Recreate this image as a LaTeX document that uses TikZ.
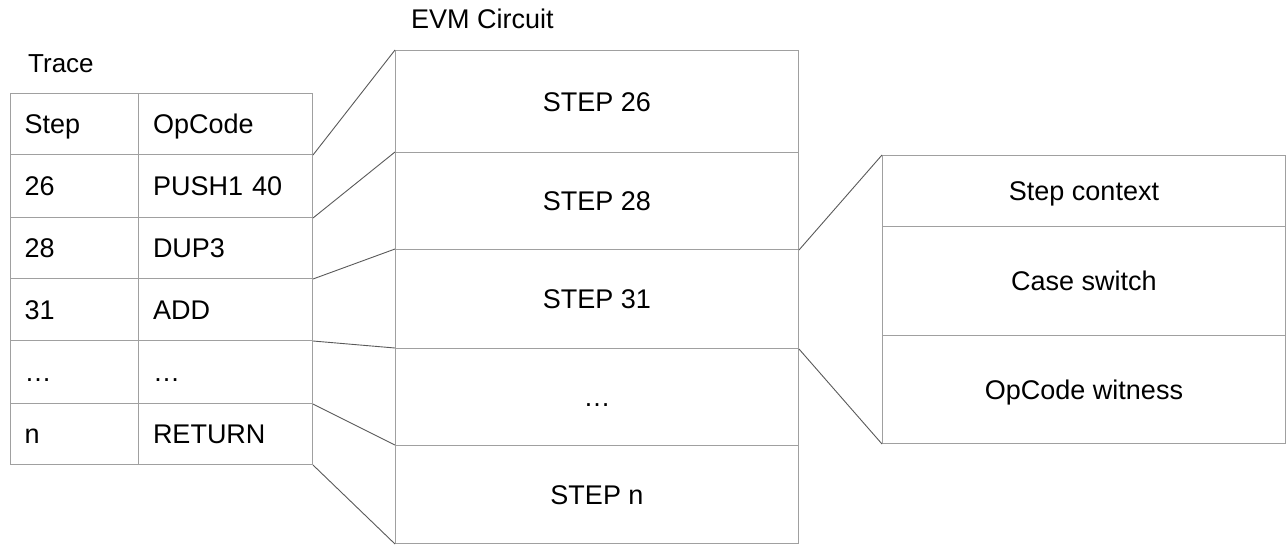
\documentclass[tikz,border=0pt]{standalone}
\usepackage{fontspec}
\setmainfont{Liberation Sans}
\definecolor{boxgray}{HTML}{A0A0A0}
\definecolor{linkgray}{HTML}{595959}
\begin{document}
\begin{tikzpicture}[x=1pt,y=-1pt,
  base/.style={font=\fontsize{27}{30}\selectfont, text height=19.3pt, text depth=0pt, inner ysep=0pt},
  cell/.style={base, draw=boxgray, line width=1pt, anchor=north west, inner xsep=14.5pt, align=left},
  colA/.style={cell, text width=99.5pt, minimum width=128.5pt},
  colB/.style={cell, text width=145pt, minimum width=174pt},
  box/.style={base, draw=boxgray, line width=1pt, anchor=north west, minimum width=403pt, align=center},
  title/.style={base, anchor=west, inner xsep=0pt},
  link/.style={draw=linkgray, line width=0.9pt}]
\useasboundingbox (0,0) rectangle (1286,544);
% titles
\node[title, font=\fontsize{26}{30}\selectfont, text height=18.6pt] (ttrace) at (28,63.5) {Trace};
\node[title] (tevm) at (411,19) {EVM Circuit};
% trace table
\node[colA, minimum height=61.5pt] (r0a) at (9.5,92.5) {Step};
\node[colB, minimum height=61.5pt] (r0b) at (138,92.5) {OpCode};
\node[colA, minimum height=63pt] (r1a) at (9.5,154) {26};
\node[colB, minimum height=63pt] (r1b) at (138,154) {PUSH1 40};
\node[colA, minimum height=61pt] (r2a) at (9.5,217) {28};
\node[colB, minimum height=61pt] (r2b) at (138,217) {DUP3};
\node[colA, minimum height=62pt] (r3a) at (9.5,278) {31};
\node[colB, minimum height=62pt] (r3b) at (138,278) {ADD};
\node[colA, minimum height=63pt] (r4a) at (9.5,340) {\dots};
\node[colB, minimum height=63pt] (r4b) at (138,340) {\dots};
\node[colA, minimum height=61pt] (r5a) at (9.5,403) {n};
\node[colB, minimum height=61pt] (r5b) at (138,403) {RETURN};
% EVM circuit
\node[box, minimum height=102pt] (e1) at (395,50) {STEP 26};
\node[box, minimum height=97pt] (e2) at (395,152) {STEP 28};
\node[box, minimum height=99pt] (e3) at (395,249) {STEP 31};
\node[box, minimum height=97pt] (e4) at (395,348) {\dots};
\node[box, minimum height=98pt] (e5) at (395,445) {STEP n};
% step detail
\node[box, minimum height=71pt] (s1) at (882,155) {Step context};
\node[box, minimum height=109pt] (s2) at (882,226) {Case switch};
\node[box, minimum height=108pt] (s3) at (882,335) {OpCode witness};
% connectors
\draw[link] (r0b.south east) -- (e1.north west);
\draw[link] (r1b.south east) -- (e2.north west);
\draw[link] (r2b.south east) -- (e3.north west);
\draw[link] (r3b.south east) -- (e4.north west);
\draw[link] (r4b.south east) -- (e5.north west);
\draw[link] (r5b.south east) -- (e5.south west);
\draw[link] (e2.south east) -- (s1.north west);
\draw[link] (e3.south east) -- (s3.south west);
\end{tikzpicture}
\end{document}
